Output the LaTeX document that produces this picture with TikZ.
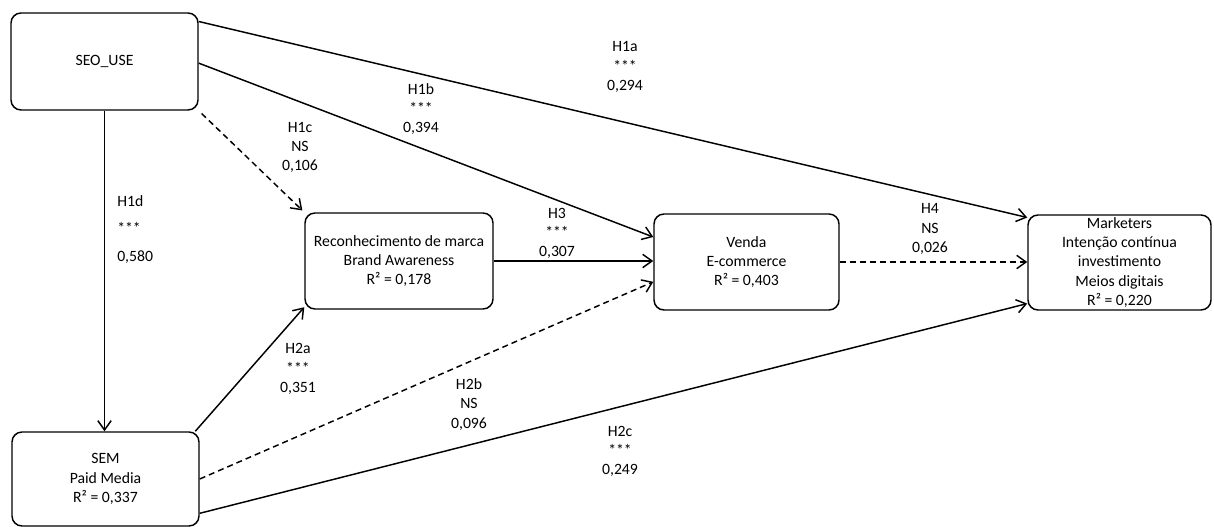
\documentclass[tikz,border=0pt]{standalone}
\usepackage{fontspec}
\setmainfont{Carlito}
\usetikzlibrary{arrows.meta}

\begin{document}
\begin{tikzpicture}[x=0.75pt, y=-0.75pt,
        box/.style={draw, line width=1.1pt, rounded corners=7.5pt, align=center, inner sep=0pt},
        link/.style={line width=1.1pt, -{Straight Barb[length=7pt,width=10pt]}},
        lbl/.style={align=center, inner sep=0pt},
        every node/.style={font=\fontsize{11.8}{14.5}\selectfont}]
        \useasboundingbox (0,0) rectangle (1214,527);

        % Draw the constructs
        \node[box, minimum width=187*0.75pt, minimum height=97*0.75pt] (seo) at (104.5,61.5) {SEO\_USE};
        \node[box, minimum width=187*0.75pt, minimum height=94*0.75pt] (sem) at (105.5,479) {SEM\\Paid Media\\R² = 0,337};
        \node[box, minimum width=188*0.75pt, minimum height=96*0.75pt] (rec) at (399,261) {Reconhecimento de marca\\Brand Awareness\\R² = 0,178};
        \node[box, minimum width=185*0.75pt, minimum height=96*0.75pt] (venda) at (746.5,262) {Venda\\E-commerce\\R² = 0,403};
        \node[box, minimum width=183*0.75pt, minimum height=95*0.75pt] (mkt) at (1119.5,262.5) {Marketers\\Intenção contínua\\investimento\\Meios digitais\\R² = 0,220};

        % Draw the paths (dashed = not significant)
        \draw[link] (seo.23) -- (mkt.154);
        \draw[link] (seo.-1) -- (venda.165);
        \draw[link, dash pattern=on 4.5pt off 3pt, shorten <=3pt, shorten >=2pt] (seo.south east) -- (rec.north west);
        \draw[link] (seo.south) -- (seo.south |- sem.north);
        \draw[link] (rec.east) -- (rec.east -| venda.west);
        \draw[link, dash pattern=on 4.5pt off 3pt] (venda.east) -- (venda.east -| mkt.west);
        \draw[link] (sem.28) -- (rec.206);
        \draw[link, dash pattern=on 4.5pt off 3pt] (sem.east) -- (venda.192);
        \draw[link] (sem.-20) -- (mkt.204);

        % Labels for the hypotheses and coefficients
        \node[lbl] (h1a) at (625,67) {H1a\\***\\0,294};
        \node[lbl] (h1b) at (421,109) {H1b\\***\\0,394};
        \node[lbl] (h1c) at (300,147.5) {H1c\\NS\\0,106};
        \node[lbl, align=left, anchor=west] (h1d) at (117,229.5) {H1d\\[6pt]***\\[6pt]0,580};
        \node[lbl] (h3) at (557,233.5) {H3\\***\\0,307};
        \node[lbl] (h4) at (930,229) {H4\\NS\\0,026};
        \node[lbl] (h2a) at (298,369) {H2a\\***\\0,351};
        \node[lbl] (h2b) at (469,404.5) {H2b\\NS\\0,096};
        \node[lbl] (h2c) at (620,451.5) {H2c\\***\\0,249};
    \end{tikzpicture}
\end{document}
